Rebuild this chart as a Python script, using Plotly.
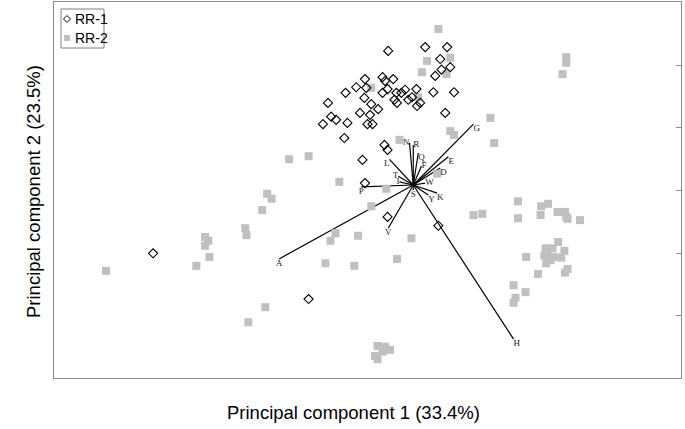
import plotly.graph_objects as go

# PCA scores, group RR-1 (open diamonds)
rr1_pc1 = [-0.40, 0.19, 0.54, 0.43, 0.59, 0.45, 0.35, -0.77, -0.49, -0.32,
           -0.45, -0.91, -0.75, -1.08, -0.41, -0.49, -0.27, -0.19, -0.13, 0.05,
           0.32, 0.65, -0.78, -0.30, -0.26, -0.08, -0.02, -0.67, -0.56, 0.06,
           0.11, -1.36, -0.85, -0.69, -1.31, -1.23, -1.44, -1.05, -0.73, -0.65,
           0.51, -1.10, -0.46, -0.41, -0.81, -0.77, -0.41, 0.40, -4.15, -1.67]
rr1_pc2 = [2.14, 2.20, 2.20, 2.01, 1.88, 1.84, 1.74, 1.69, 1.72, 1.69,
           1.66, 1.56, 1.55, 1.47, 1.53, 1.47, 1.47, 1.47, 1.52, 1.53,
           1.48, 1.48, 1.39, 1.36, 1.31, 1.36, 1.40, 1.29, 1.21, 1.26,
           1.31, 1.31, 1.15, 1.12, 1.09, 1.04, 0.97, 0.99, 0.97, 0.97,
           1.15, 0.75, 0.64, 0.56, 0.40, 0.03, -0.51, -0.65, -1.09, -1.82]

# PCA scores, group RR-2 (grey squares)
rr2_pc1 = [0.40, 0.22, 0.59, 0.14, 0.53, -0.67, 0.08, -0.22, 0.59, 0.65,
           1.23, 1.29, -1.67, -1.98, 2.44, 2.44, 2.38, 1.67, 1.67, 2.04,
           2.15, 2.03, 2.30, 2.42, 2.44, 2.46, 2.66, 0.96, 1.10, 2.31,
           2.11, 2.22, 2.14, 2.09, 2.19, 2.12, 2.26, 2.36, 2.41, 1.80,
           1.99, 2.46, 2.42, 1.60, 1.79, 1.63, 1.60, -2.33, -2.26, -2.41,
           -2.68, -2.66, -3.32, -3.27, -3.32, -3.25, -3.46, -4.90, -2.36, -2.63,
           -1.18, -1.24, -1.32, -1.40, -0.94, -0.26, -0.43, -0.67, -0.88, -0.03,
           0.38, -0.57, -0.45, -0.49, -0.61, -0.57, -0.37]
rr2_pc2 = [2.49, 1.98, 2.03, 1.80, 1.77, 1.55, 1.40, 0.72, 0.86, 0.80,
           1.07, 0.67, 0.46, 0.41, 2.04, 1.95, 1.77, -0.26, -0.53, -0.34,
           -0.30, -0.48, -0.43, -0.43, -0.51, -0.54, -0.56, -0.48, -0.46, -0.91,
           -1.01, -1.01, -1.09, -1.13, -1.20, -1.25, -1.15, -1.16, -1.05, -1.15,
           -1.42, -1.34, -1.40, -1.60, -1.71, -1.80, -1.88, -0.14, -0.22, -0.40,
           -0.69, -0.80, -0.83, -0.89, -0.97, -1.15, -1.29, -1.37, -1.95, -2.19,
           0.05, -0.77, -0.89, -1.25, -1.29, -1.18, -0.06, -0.34, -0.81, -0.85,
           0.18, -2.57, -2.58, -2.66, -2.73, -2.78, -2.63]

# variable loadings (arrow tips)
var_names = ["A", "D", "E", "F", "G", "H", "I", "K", "L", "N",
             "P", "Q", "R", "S", "T", "V", "W", "Y"]
load_pc1 = [-2.14, 0.43, 0.56, 0.13, 0.96, 1.60, -0.22, 0.38, -0.38, -0.06,
            -0.83, 0.08, 0.00, 0.00, -0.24, -0.40, 0.19, 0.24]
load_pc2 = [-1.18, 0.27, 0.45, 0.30, 0.97, -2.46, 0.05, -0.13, 0.41, 0.67,
            -0.03, 0.51, 0.64, -0.08, 0.14, -0.69, 0.03, -0.16]
label_pos = ["bottom center", "bottom right", "bottom right", "middle right",
             "bottom right", "bottom right", "middle left", "bottom right",
             "bottom left", "middle left", "bottom center", "bottom right",
             "middle right", "bottom center", "middle left", "bottom center",
             "middle right", "bottom right"]

legend_names = ["RR-1", "RR-2"]

W, H = 685, 429
ML, MR, MT, MB = 54, 4, 2, 51
FRAME = "#8c8c8c"


def px_x(p):
    """pixel column -> paper x"""
    return (p - ML) / (W - ML - MR)


def px_y(p):
    """pixel row -> paper y"""
    return (H - MB - p) / (H - MT - MB)


fig = go.Figure()

# loading vectors from the origin
lx, ly = [], []
for x, y in zip(load_pc1, load_pc2):
    lx += [0, x, None]
    ly += [0, y, None]
fig.add_trace(go.Scatter(x=lx, y=ly, mode="lines", line=dict(color="#000000", width=1.2),
                         showlegend=False, hoverinfo="skip"))

fig.add_trace(go.Scatter(
    x=rr2_pc1, y=rr2_pc2, mode="markers", name="RR-2", showlegend=False,
    marker=dict(symbol="square", size=8, color="#c0c0c0"),
))
fig.add_trace(go.Scatter(
    x=rr1_pc1, y=rr1_pc2, mode="markers", name="RR-1", showlegend=False,
    marker=dict(symbol="diamond-open", size=7, color="#000000", line=dict(width=1.1)),
))

fig.add_trace(go.Scatter(
    x=load_pc1, y=load_pc2, mode="text", text=var_names, textposition=label_pos,
    textfont=dict(family="Liberation Serif", size=9, color="#222222"),
    showlegend=False, hoverinfo="skip",
))

# compact Excel-style legend box
shapes = [
    dict(type="rect", xref="paper", yref="paper", x0=px_x(61), x1=px_x(104),
         y0=px_y(48), y1=px_y(9), line=dict(color="#808080", width=1),
         fillcolor="#ffffff", layer="above"),
    dict(type="path", xref="paper", yref="paper", layer="above",
         path=(f"M {px_x(63.5)} {px_y(19)} L {px_x(67)} {px_y(15.5)} "
               f"L {px_x(70.5)} {px_y(19)} L {px_x(67)} {px_y(22.5)} Z"),
         line=dict(color="#000000", width=1)),
    dict(type="rect", xref="paper", yref="paper", layer="above",
         x0=px_x(64), x1=px_x(70), y0=px_y(41), y1=px_y(35),
         fillcolor="#c0c0c0", line=dict(width=0)),
]

annotations = [
    dict(text=legend_names[0], xref="paper", yref="paper", x=px_x(73), y=px_y(19),
         xanchor="left", yanchor="middle", showarrow=False, font=dict(size=14)),
    dict(text=legend_names[1], xref="paper", yref="paper", x=px_x(73), y=px_y(38),
         xanchor="left", yanchor="middle", showarrow=False, font=dict(size=14)),
    dict(text="Principal component 1 (33.4%)", xref="paper", yref="paper",
         x=px_x(353), y=px_y(412), yanchor="middle", showarrow=False,
         font=dict(size=18.5)),
    dict(text="Principal component 2 (23.5%)", xref="paper", yref="paper",
         x=px_x(34), y=px_y(192), xanchor="center", yanchor="middle", textangle=-90,
         showarrow=False, font=dict(size=18.5)),
]

fig.update_layout(
    width=W, height=H,
    margin=dict(l=ML, r=MR, t=MT, b=MB),
    plot_bgcolor="#ffffff", paper_bgcolor="#ffffff",
    font=dict(family="Liberation Sans, Arial", color="#000000"),
    showlegend=False,
    xaxis=dict(range=[-5.73, 4.27], showgrid=False, zeroline=False,
               showticklabels=False, ticks="", showline=True, mirror=True,
               linecolor=FRAME, linewidth=1),
    yaxis=dict(range=[-3.08, 2.92], showgrid=False, zeroline=False,
               side="right", showticklabels=False, ticks="inside", ticklen=5,
               tickcolor=FRAME, tickvals=[-2.09, -1.09, -0.09, 0.91, 1.91],
               showline=True, mirror=True, linecolor=FRAME, linewidth=1),
    shapes=shapes,
    annotations=annotations,
)

# drop the default 8px page margin so the figure sits at the window's corner
fig.write_html("out.html", config={"displayModeBar": False},
               post_script="document.body.style.margin='0px';")
